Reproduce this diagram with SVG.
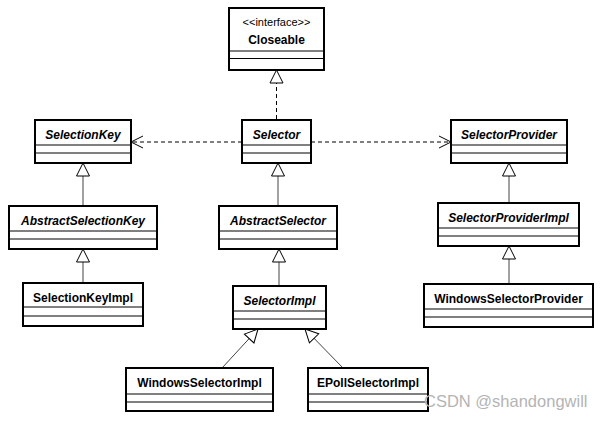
<svg xmlns="http://www.w3.org/2000/svg" width="603" height="422" viewBox="0 0 603 422">
<style>
.box{fill:#fff;stroke:#000;stroke-width:2}
.div{stroke:#000;stroke-width:1}
.t{font-family:"Liberation Sans",Arial,sans-serif;font-size:12px;font-weight:bold;text-anchor:middle;fill:#000}
.i{font-style:italic}
.st{font-family:"Liberation Sans",Arial,sans-serif;font-size:11px;text-anchor:middle;fill:#000}
.gen{fill:none;stroke:#444;stroke-width:1}
.dash{fill:none;stroke:#000;stroke-width:1;stroke-dasharray:4,3}
.wm{font-family:"Liberation Sans",Arial,sans-serif;font-size:16.5px;fill:#b4b4b4}
</style>
<defs>
<marker id="tri" markerUnits="userSpaceOnUse" markerWidth="16" markerHeight="16" viewBox="-1 -8 16 16" refX="13" refY="0" orient="auto">
<path d="M13,0 L0,-6.5 L0,6.5 Z" fill="#fff" stroke="#000" stroke-width="1"/>
</marker>
<marker id="open" markerUnits="userSpaceOnUse" markerWidth="16" markerHeight="16" viewBox="-1 -8 16 16" refX="12" refY="0" orient="auto">
<path d="M0,-6 L12,0 L0,6" fill="none" stroke="#000" stroke-width="1"/>
</marker>
</defs>
<rect width="603" height="422" fill="#fff"/>
<g id="connectors">
<line class="dash" x1="276.5" y1="119" x2="276.5" y2="70" marker-end="url(#tri)"/>
<line class="dash" x1="242" y1="142" x2="131" y2="142" marker-end="url(#open)"/>
<line class="dash" x1="311" y1="142" x2="451" y2="142" marker-end="url(#open)"/>
<line class="gen" x1="83" y1="205" x2="83" y2="163" marker-end="url(#tri)"/>
<line class="gen" x1="83" y1="283" x2="83" y2="249" marker-end="url(#tri)"/>
<line class="gen" x1="278" y1="205" x2="278" y2="163" marker-end="url(#tri)"/>
<line class="gen" x1="279" y1="286" x2="279" y2="249" marker-end="url(#tri)"/>
<line class="gen" x1="509" y1="203" x2="509" y2="163" marker-end="url(#tri)"/>
<line class="gen" x1="509" y1="284" x2="509" y2="246" marker-end="url(#tri)"/>
<line class="gen" x1="222" y1="368" x2="258" y2="329" marker-end="url(#tri)"/>
<line class="gen" x1="343" y1="368" x2="305" y2="329" marker-end="url(#tri)"/>
</g>
<g id="Closeable">
<rect class="box" x="229" y="8" width="95" height="62"/>
<line class="div" x1="229" y1="51" x2="324" y2="51"/>
<line class="div" x1="229" y1="58.5" x2="324" y2="58.5"/>
<text class="st" x="276.5" y="26">&lt;&lt;interface&gt;&gt;</text>
<text class="t" x="276.5" y="44">Closeable</text>
</g>
<g id="SelectionKey">
<rect class="box" x="35" y="120" width="96" height="43"/>
<line class="div" x1="35" y1="145" x2="131" y2="145"/>
<line class="div" x1="35" y1="153" x2="131" y2="153"/>
<text class="t i" x="83" y="139">SelectionKey</text>
</g>
<g id="Selector">
<rect class="box" x="242" y="120" width="69" height="43"/>
<line class="div" x1="242" y1="145" x2="311" y2="145"/>
<line class="div" x1="242" y1="153" x2="311" y2="153"/>
<text class="t i" x="276.5" y="139">Selector</text>
</g>
<g id="SelectorProvider">
<rect class="box" x="451" y="120" width="116" height="43"/>
<line class="div" x1="451" y1="145" x2="567" y2="145"/>
<line class="div" x1="451" y1="153" x2="567" y2="153"/>
<text class="t i" x="509" y="139">SelectorProvider</text>
</g>
<g id="AbstractSelectionKey">
<rect class="box" x="9" y="206" width="148" height="43"/>
<line class="div" x1="9" y1="231" x2="157" y2="231"/>
<line class="div" x1="9" y1="239" x2="157" y2="239"/>
<text class="t i" x="83" y="225">AbstractSelectionKey</text>
</g>
<g id="AbstractSelector">
<rect class="box" x="219" y="206" width="118" height="43"/>
<line class="div" x1="219" y1="231" x2="337" y2="231"/>
<line class="div" x1="219" y1="239" x2="337" y2="239"/>
<text class="t i" x="278" y="225">AbstractSelector</text>
</g>
<g id="SelectorProviderImpl">
<rect class="box" x="438" y="203" width="141" height="43"/>
<line class="div" x1="438" y1="228" x2="579" y2="228"/>
<line class="div" x1="438" y1="236" x2="579" y2="236"/>
<text class="t i" x="508.5" y="222">SelectorProviderImpl</text>
</g>
<g id="SelectionKeyImpl">
<rect class="box" x="23" y="283" width="120" height="43"/>
<line class="div" x1="23" y1="307" x2="143" y2="307"/>
<line class="div" x1="23" y1="316" x2="143" y2="316"/>
<text class="t" x="83" y="302">SelectionKeyImpl</text>
</g>
<g id="SelectorImpl">
<rect class="box" x="233" y="286" width="93" height="43"/>
<line class="div" x1="233" y1="311" x2="326" y2="311"/>
<line class="div" x1="233" y1="319" x2="326" y2="319"/>
<text class="t i" x="279.5" y="305">SelectorImpl</text>
</g>
<g id="WindowsSelectorProvider">
<rect class="box" x="424" y="284" width="169" height="43"/>
<line class="div" x1="424" y1="309" x2="593" y2="309"/>
<line class="div" x1="424" y1="317" x2="593" y2="317"/>
<text class="t" x="508.5" y="303">WindowsSelectorProvider</text>
</g>
<g id="WindowsSelectorImpl">
<rect class="box" x="126" y="368" width="147" height="43"/>
<line class="div" x1="126" y1="394" x2="273" y2="394"/>
<line class="div" x1="126" y1="402" x2="273" y2="402"/>
<text class="t" x="199.5" y="387">WindowsSelectorImpl</text>
</g>
<g id="EPollSelectorImpl">
<rect class="box" x="308" y="368" width="120" height="43"/>
<line class="div" x1="308" y1="394" x2="428" y2="394"/>
<line class="div" x1="308" y1="402" x2="428" y2="402"/>
<text class="t" x="368" y="387">EPollSelectorImpl</text>
</g>
<text class="wm" x="424" y="407">CSDN @shandongwill</text>
</svg>
